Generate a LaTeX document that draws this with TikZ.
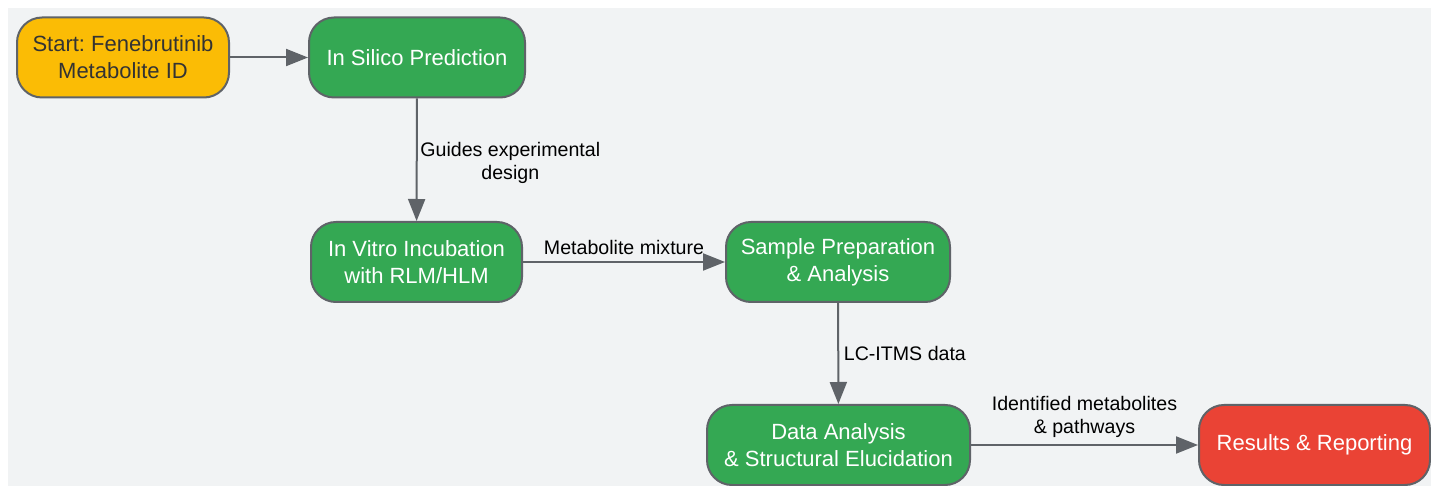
\documentclass[tikz,border=0pt]{standalone}
\usepackage{fontspec}
\setmainfont{Liberation Sans}
\frenchspacing
\usetikzlibrary{arrows.meta,positioning}
\definecolor{gyellow}{HTML}{FBBC05}
\definecolor{ggreen}{HTML}{34A853}
\definecolor{gred}{HTML}{EA4335}
\definecolor{gline}{HTML}{5F6368}
\definecolor{gbg}{HTML}{F1F3F4}
\tikzstyle{box}=[rectangle, rounded corners=12.5pt, draw=gline, line width=1pt, minimum height=40pt, align=center, font=\fontsize{11}{13.5}\selectfont, text=white, fill=ggreen]
\tikzstyle{flow}=[draw=gline, line width=1pt, -{Triangle[length=11pt,width=8.5pt]}]
\tikzstyle{lbl}=[font=\fontsize{9.8}{11.5}\selectfont, align=center, text=black]

\begin{document}
\begin{tikzpicture}[x=0.5pt, y=-0.5pt]

    \useasboundingbox (0,0) rectangle (1431,486);
    \fill[gbg] (8,8) rectangle (1431,486);

    \node[box, fill=gyellow, text=black!80, minimum width=106pt] at (123,57.5) (start) {Start: Fenebrutinib\\Metabolite ID};
    \node[box, minimum width=108pt] at (417,57.5) (silico) {In Silico Prediction};
    \node[box, minimum width=105.5pt] at (416.5,262) (vitro) {In Vitro Incubation\\with RLM/HLM};
    \node[box, minimum width=112pt] at (838,262) (prep) {Sample Preparation\\\& Analysis};
    \node[box, minimum width=131.5pt] at (838.5,445) (data) {Data Analysis\\\& Structural Elucidation};
    \node[box, fill=gred, minimum width=115.5pt] at (1314.5,445) (results) {Results \& Reporting};

    \draw[flow] (start) -- (silico);
    \draw[flow] (silico) -- node[lbl, right=-2pt, pos=0.53] {Guides experimental\\design} (vitro);
    \draw[flow] (vitro) -- node[lbl, above=0pt] {Metabolite mixture} (prep);
    \draw[flow] (prep) -- node[lbl, right=-1pt] {LC-ITMS data} (data);
    \draw[flow] (data) -- node[lbl, above=0pt] {Identified metabolites\\\& pathways} (results);

\end{tikzpicture}
\end{document}
